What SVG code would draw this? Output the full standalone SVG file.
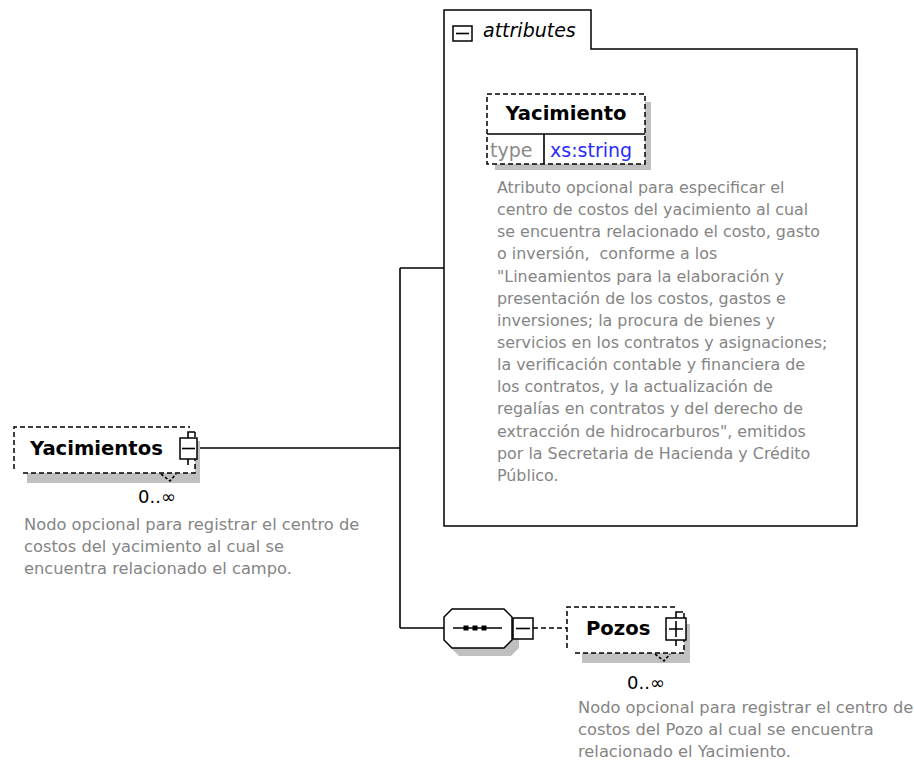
<svg xmlns="http://www.w3.org/2000/svg" width="914" height="761" viewBox="0 0 914 761">
<style>
.bg{fill:#ffffff}
.ln{fill:none;stroke:#000;stroke-width:1.6}
.dash{fill:#fff;stroke:#000;stroke-width:1.5;stroke-dasharray:5 3}
.dashl{fill:none;stroke:#000;stroke-width:1.5;stroke-dasharray:5 3}
.white{fill:#fff;stroke:none}
.shadow{fill:#c0c0c0;stroke:none}
.box{fill:#fff;stroke:#000;stroke-width:1.5}
.name{font-family:"DejaVu Sans",sans-serif;font-weight:bold;font-size:19.6px;fill:#000}
.desc{font-family:"DejaVu Sans",sans-serif;font-size:16.3px;fill:#858585}
.adesc{font-family:"DejaVu Sans",sans-serif;font-size:15.9px;fill:#858585}
.occ{font-family:"DejaVu Sans",sans-serif;font-size:18px;fill:#000}
.type{font-family:"DejaVu Sans",sans-serif;font-size:19px;fill:#8a8a8a}
.tval{font-family:"DejaVu Sans",sans-serif;font-size:19px;fill:#2b2bff}
.ital{font-family:"DejaVu Sans",sans-serif;font-style:italic;font-size:19px;fill:#000}
</style>
<rect class="bg" x="0" y="0" width="914" height="761"/>

<g id="connectors">
<path class="ln" d="M197,448 H400"/>
<path class="ln" d="M400,268 V628"/>
<path class="ln" d="M400,268 H444"/>
<path class="ln" d="M400,628 H444"/>
<path class="dashl" d="M533,628 H567"/>
</g>

<g id="attributes">
<path class="box" d="M444,10 H591 V49 H857 V526 H444 Z"/>
<rect class="box" x="453" y="26" width="19" height="15"/>
<path class="ln" d="M456,33.5 H469"/>
<text class="ital" x="483" y="37">attributes</text>
</g>

<g id="Yacimiento">
<rect class="shadow" x="495" y="102" width="156" height="68"/>
<rect class="dash" x="487" y="94" width="158" height="70"/>
<path class="ln" d="M487,134 H645 M544,134 V164"/>
<text class="name" x="566" y="120" text-anchor="middle">Yacimiento</text>
<text class="type" x="490" y="157">type</text>
<text class="tval" x="550" y="157">xs:string</text>
<g class="adesc">
<text x="497" y="193">Atributo opcional para especificar el</text>
<text x="497" y="215">centro de costos del yacimiento al cual</text>
<text x="497" y="237">se encuentra relacionado el costo, gasto</text>
<text x="497" y="259">o inversión,&#160; conforme a los</text>
<text x="497" y="282">"Lineamientos para la elaboración y</text>
<text x="497" y="304">presentación de los costos, gastos e</text>
<text x="497" y="326">inversiones; la procura de bienes y</text>
<text x="497" y="348">servicios en los contratos y asignaciones;</text>
<text x="497" y="370">la verificación contable y financiera de</text>
<text x="497" y="392">los contratos, y la actualización de</text>
<text x="497" y="414">regalías en contratos y del derecho de</text>
<text x="497" y="437">extracción de hidrocarburos", emitidos</text>
<text x="497" y="459">por la Secretaria de Hacienda y Crédito</text>
<text x="497" y="481">Público.</text>
</g>
</g>

<g id="Yacimientos">
<rect class="shadow" x="27" y="441" width="173" height="42"/>
<rect class="white" x="14" y="427" width="181" height="46"/>
<path class="dashl" d="M14,469 V427 H190"/>
<path class="dashl" d="M195,432 V473 H20"/>
<path class="ln" d="M161,474 L170,481 L176,474" stroke-dasharray="3 2"/>
<path class="ln" d="M188,438 V432 H195 M188,459 V465"/>
<rect class="box" x="180" y="438" width="17" height="21"/>
<path class="ln" d="M182,448.5 H195"/>
<text class="name" x="30" y="455">Yacimientos</text>
<text class="occ" x="138" y="503">0..∞</text>
<g class="desc">
<text x="24" y="530">Nodo opcional para registrar el centro de</text>
<text x="24" y="552">costos del yacimiento al cual se</text>
<text x="24" y="574">encuentra relacionado el campo.</text>
</g>
</g>

<g id="sequence">
<path class="shadow" d="M459,617 H511 L519,625 V648 L511,656 H459 L451,648 V625 Z"/>
<path class="box" d="M452,609 H504 L512,617 V640 L504,648 H452 L444,640 V617 Z"/>
<path class="ln" d="M453,628 H502"/>
<rect x="463.5" y="625.5" width="5" height="5" fill="#000"/>
<rect x="472.5" y="625.5" width="5" height="5" fill="#000"/>
<rect x="481.5" y="625.5" width="5" height="5" fill="#000"/>
<rect class="box" x="513" y="618" width="20" height="21"/>
<path class="ln" d="M516,628.5 H530"/>
</g>

<g id="Pozos">
<rect class="shadow" x="582" y="624" width="108" height="39"/>
<rect class="white" x="567" y="607" width="117" height="46"/>
<path class="dashl" d="M567,648 V607 H678"/>
<path class="dashl" d="M684,613 V653 H573"/>
<path class="ln" d="M655,654 L664,661 L670,654" stroke-dasharray="3 2"/>
<path class="ln" d="M676,618 V612 H683 M676,640 V646"/>
<rect class="box" x="666" y="618" width="20" height="22"/>
<path class="ln" d="M669,629 H683 M676,621 V637"/>
<text class="name" x="586" y="635">Pozos</text>
<text class="occ" x="627" y="689">0..∞</text>
<g class="desc">
<text x="578" y="713">Nodo opcional para registrar el centro de</text>
<text x="578" y="735">costos del Pozo al cual se encuentra</text>
<text x="578" y="757">relacionado el Yacimiento.</text>
</g>
</g>
</svg>
